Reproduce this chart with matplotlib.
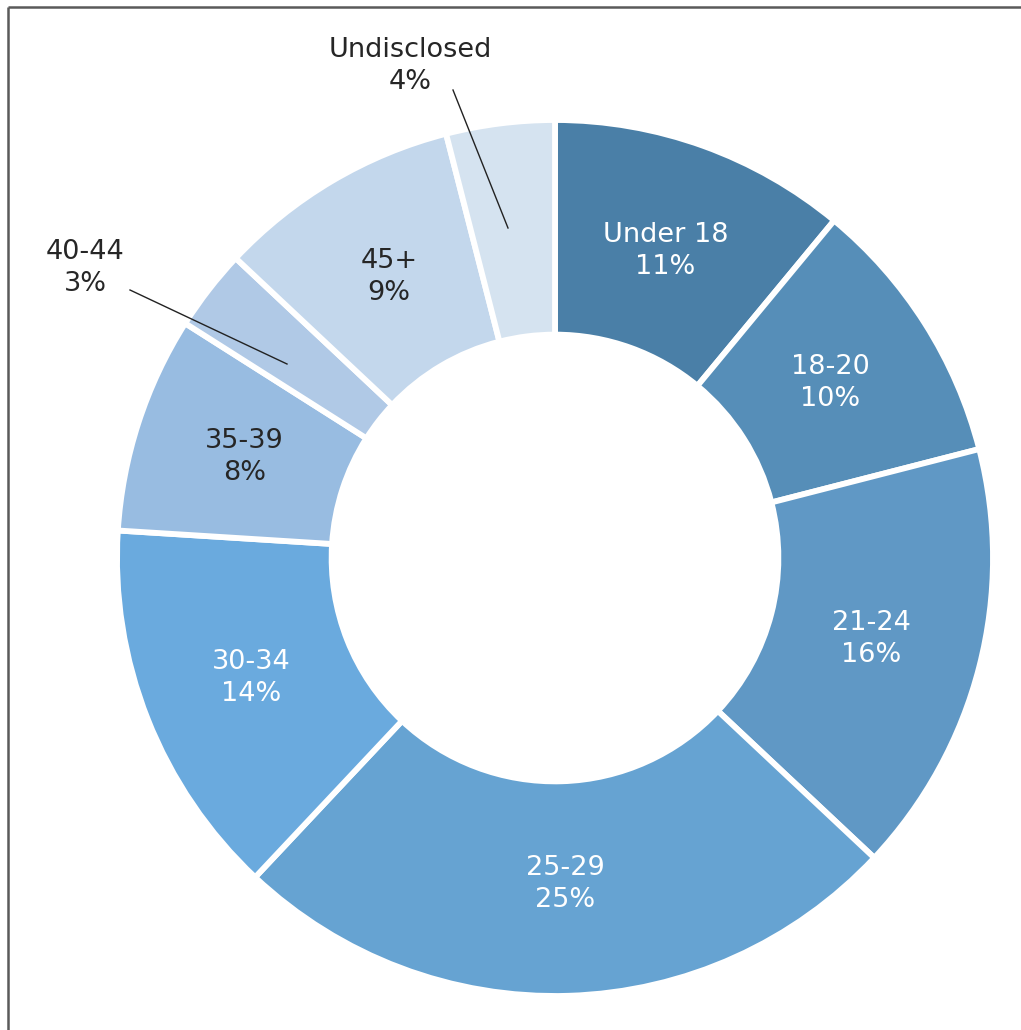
import numpy as np
import matplotlib.pyplot as plt
from matplotlib.lines import Line2D

plt.rcParams["font.family"] = ["DejaVu Sans"]

labels = ["Under 18", "18-20", "21-24", "25-29", "30-34", "35-39", "40-44", "45+", "Undisclosed"]
shares = [11, 10, 16, 25, 14, 8, 3, 9, 4]
colors = ["#4a7fa7", "#568eb8", "#6098c5", "#66a3d2", "#6aaade",
          "#98bce1", "#b0c9e6", "#c3d7ec", "#d5e3f0"]
text_colors = ["white"] * 5 + ["#262626"] * 4

W, H = 1021, 1030
fig = plt.figure(figsize=(W / 100, H / 100), dpi=100)
ax = fig.add_axes([0, 0, 1, 1])

cx, cy, R = 555, H - 558, 438
ax.pie(shares, colors=colors, startangle=90, counterclock=False,
       center=(cx, cy), radius=R, frame=True,
       wedgeprops=dict(width=R * 0.49, edgecolor="white", linewidth=4.2))
ax.set_xlim(0, W)
ax.set_ylim(0, H)
ax.axis("off")

font = dict(fontsize=19.5, linespacing=1.33, ha="center", va="center")

# labels inside the ring, except the two thin slices which get leader lines
cum = np.cumsum([0] + shares)
for i, (lab, v) in enumerate(zip(labels, shares)):
    if lab in ("40-44", "Undisclosed"):
        continue
    mid = np.deg2rad(90 - 3.6 * (cum[i] + v / 2))
    r = R * 0.745
    ax.text(cx + r * np.cos(mid), cy + r * np.sin(mid), f"{lab}\n{v}%",
            color=text_colors[i], **font)

ax.text(410, H - 66, f"Undisclosed\n{shares[8]}%", color="#262626", **font)
ax.plot([453, 508], [H - 90, H - 228], color="#222222", lw=1)
ax.text(85, H - 268, f"40-44\n{shares[6]}%", color="#262626", **font)
ax.plot([130, 287], [H - 290, H - 364], color="#222222", lw=1)

# frame on the left and top edges
fig.add_artist(Line2D([7.5 / W, 7.5 / W], [0, 1 - 6.5 / H], transform=fig.transFigure,
                      color="#5a5a5a", lw=1.8, solid_capstyle="butt"))
fig.add_artist(Line2D([7.5 / W, 1], [1 - 6.5 / H, 1 - 6.5 / H], transform=fig.transFigure,
                      color="#5a5a5a", lw=1.8, solid_capstyle="butt"))

fig.savefig("out.png", dpi=100, facecolor="white")
